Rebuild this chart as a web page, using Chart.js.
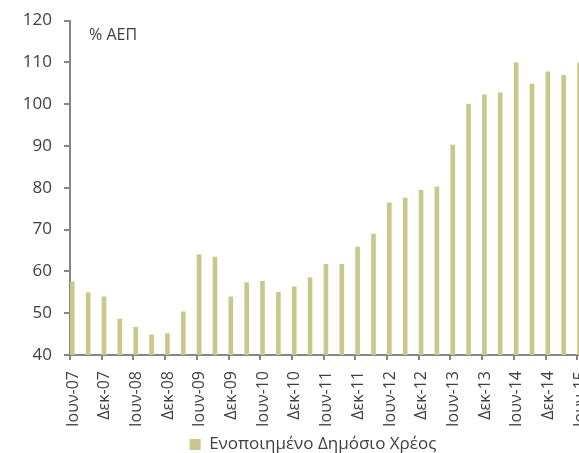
<!DOCTYPE html>
<html>
<head>
<meta charset="utf-8">
<script src="https://cdn.jsdelivr.net/npm/chart.js@4/dist/chart.umd.min.js"></script>
<style>
  html, body { margin: 0; padding: 0; background: #fff; overflow: hidden; }
  #wrap { width: 626px; height: 453px; position: relative; }
</style>
</head>
<body>
<div id="wrap"><canvas id="c"></canvas></div>
<script>
// Quarterly consolidated public debt, % of GDP
const quarters = [
  'Ιουν-07','Σεπ-07','Δεκ-07','Μαρ-08','Ιουν-08','Σεπ-08','Δεκ-08','Μαρ-09',
  'Ιουν-09','Σεπ-09','Δεκ-09','Μαρ-10','Ιουν-10','Σεπ-10','Δεκ-10','Μαρ-11',
  'Ιουν-11','Σεπ-11','Δεκ-11','Μαρ-12','Ιουν-12','Σεπ-12','Δεκ-12','Μαρ-13',
  'Ιουν-13','Σεπ-13','Δεκ-13','Μαρ-14','Ιουν-14','Σεπ-14','Δεκ-14','Μαρ-15',
  'Ιουν-15'
];
const debtValues = [
  57.5, 54.9, 53.9, 48.6, 46.6, 44.8, 45.1, 50.3,
  64.0, 63.4, 53.9, 57.3, 57.6, 55.0, 56.3, 58.5,
  61.7, 61.7, 65.8, 68.9, 76.4, 77.5, 79.4, 80.2,
  90.2, 100.0, 102.2, 102.7, 109.9, 104.8, 107.7, 106.9,
  109.9
];
const yTicks = [40, 50, 60, 70, 80, 90, 100, 110, 120];
const seriesName = 'Ενοποιημένο Δημόσιο Χρέος';
const unitLabel = '% ΑΕΠ';

const FONT = "'Open Sans', 'Noto Sans', sans-serif";
const TEXT = '#404040';
const AXIS = '#868686';
const BAR = '#c9c88c';

// half-year tick positions sit just left of the June/December bars
const TICK_SHIFT = -0.145;

const unitText = {
  id: 'unitText',
  afterDraw(chart) {
    const { ctx, chartArea } = chart;
    ctx.save();
    ctx.font = "16px " + FONT;
    ctx.fillStyle = TEXT;
    ctx.textBaseline = 'middle';
    ctx.textAlign = 'left';
    ctx.fillText(unitLabel, chartArea.left + 19, chartArea.top + 15);
    ctx.restore();
  }
};

new Chart(document.getElementById('c'), {
  type: 'bar',
  data: {
    datasets: [{
      label: seriesName,
      data: debtValues.map((v, i) => ({ x: i, y: v })),
      backgroundColor: BAR,
      borderWidth: 0,
      barThickness: 4
    }]
  },
  options: {
    responsive: true,
    maintainAspectRatio: false,
    animation: false,
    layout: { padding: { top: 6, right: 0, left: 0, bottom: -10 } },
    plugins: {
      legend: {
        position: 'bottom',
        labels: {
          font: { family: FONT, size: 17 },
          color: TEXT,
          boxWidth: 11,
          boxHeight: 11,
          padding: 3
        }
      },
      tooltip: { enabled: false }
    },
    scales: {
      x: {
        type: 'linear',
        offset: false,
        min: TICK_SHIFT,
        max: 34.93,
        afterBuildTicks(axis) {
          const t = [];
          for (let i = 0; i < quarters.length; i += 2) t.push({ value: i + TICK_SHIFT });
          axis.ticks = t;
        },
        afterFit(scale) { scale.height = 78; },
        ticks: {
          autoSkip: false,
          minRotation: 90,
          maxRotation: 90,
          labelOffset: 3,
          padding: 11,
          font: { family: FONT, size: 16 },
          color: TEXT,
          callback: (v) => quarters[Math.round(v - TICK_SHIFT)]
        },
        grid: {
          offset: false,
          drawOnChartArea: false,
          drawTicks: true,
          tickLength: 5,
          color: AXIS,
          lineWidth: 2
        },
        border: { display: true, color: AXIS, width: 2 }
      },
      y: {
        min: 40,
        max: 120,
        afterBuildTicks(axis) { axis.ticks = yTicks.map(v => ({ value: v })); },
        afterFit(scale) { scale.width = 70; },
        ticks: {
          padding: 12,
          font: { family: FONT, size: 17, lineHeight: 1 },
          color: TEXT
        },
        grid: {
          drawOnChartArea: false,
          drawTicks: true,
          tickLength: 6,
          color: AXIS,
          lineWidth: 2
        },
        border: { display: true, color: AXIS, width: 2 }
      }
    }
  },
  plugins: [unitText]
});
</script>
</body>
</html>
